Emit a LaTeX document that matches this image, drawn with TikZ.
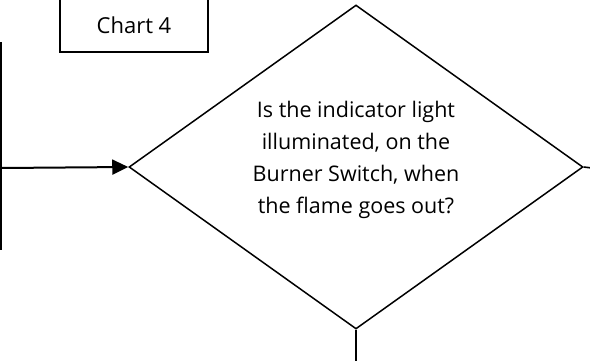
\documentclass[tikz,border=0pt]{standalone}
\usepackage{fontspec}
\setmainfont{Open Sans}
\usetikzlibrary{arrows.meta, positioning, shapes.geometric}

\begin{document}
\begin{tikzpicture}[
  x=1pt, y=-1pt,
  chartbox/.style = {
    draw, line width=1.3pt, minimum width=148pt, minimum height=54pt,
    inner sep=0pt, font=\fontsize{22}{26}\selectfont
  },
  decision/.style = {
    draw, diamond, line width=1.5pt, inner sep=0pt,
    minimum width=454pt, minimum height=324pt
  },
  qtext/.style = {align=center, inner sep=0pt, font=\fontsize{21.5}{32}\selectfont},
  flow/.style  = {line width=1.6pt},
  arr/.style   = {-{Triangle[length=16pt, width=15pt]}, line width=2pt}
]
\clip (0,0) rectangle (590,360);
\useasboundingbox (0,0) rectangle (590,360);

\node[chartbox] (chart) at (134,25) {Chart 4};

\node[decision] (q1) at (356,167) {};
\node[qtext] (q1t) at (356,160)
  {Is the indicator light\\ illuminated, on the\\ Burner Switch, when\\ the flame goes out?};

% incoming line on the left
\coordinate (in top) at (1,42);
\coordinate (in bot) at (1,250);
\coordinate (in mid) at (1,168);
\draw[line width=1.8pt] (in top) -- (in bot);
\draw[arr] (in mid) -- (q1.west);

% outgoing branches
\coordinate (out east) at (592,168);
\coordinate (out south) at (356,362);
\draw[flow] (q1.east) -- (out east);
\draw[flow] (q1.south) -- (out south);

\end{tikzpicture}
\end{document}
